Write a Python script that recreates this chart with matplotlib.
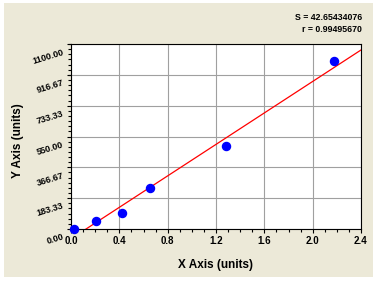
import numpy as np
import matplotlib
matplotlib.use("Agg")
import matplotlib.pyplot as plt
import matplotlib.transforms as mtransforms
from matplotlib.patches import Rectangle
from matplotlib.ticker import AutoMinorLocator, FixedLocator

x_vals = [0.025, 0.21, 0.42, 0.654, 1.286, 2.18]
y_vals = [0.0, 49.0, 97.0, 246.0, 495.0, 997.0]
x_ticks = [0.0, 0.4, 0.8, 1.2, 1.6, 2.0, 2.4]
x_tick_labels = ["0.0", "0.4", "0.8", "1.2", "1.6", "2.0", "2.4"]
y_ticks = [0.0, 183.33, 366.67, 550.0, 733.33, 916.67, 1100.0]
y_tick_labels = ["0.00", "183.33", "366.67", "550.00", "733.33", "916.67", "1100.00"]
stats_lines = ["S = 42.65434076", "r = 0.99495670"]

plt.rcParams['font.family'] = ['Liberation Sans', 'DejaVu Sans']

W, H = 380, 283
fig = plt.figure(figsize=(W / 100, H / 100), dpi=100)
fig.patch.set_facecolor("white")
fig.add_artist(Rectangle((4 / W, (H - 277) / H), (373 - 4) / W, (277 - 3) / H,
                         transform=fig.transFigure, facecolor="#ECE9D8",
                         edgecolor="none", zorder=-10))

ax = fig.add_axes([71 / W, (H - 229) / H, 290 / W, 185 / H])
ax.set_zorder(1)
ax.set_facecolor("white")

ax.set_xlim(0, 2.4)
ax.set_ylim(0, 1100)

ax.xaxis.set_major_locator(FixedLocator(x_ticks))
ax.set_xticklabels(x_tick_labels, fontsize=7, fontweight="bold")
ax.yaxis.set_major_locator(FixedLocator(y_ticks))
ax.set_yticklabels(y_tick_labels, fontsize=6.5, fontweight="bold", rotation=17,
                   rotation_mode="anchor", ha="right", va="top")
ax.xaxis.set_minor_locator(AutoMinorLocator(4))
ax.yaxis.set_minor_locator(AutoMinorLocator(6))
ax.tick_params(which="major", direction="out", length=3, width=0.8, pad=2)
ax.tick_params(which="minor", direction="out", length=2.5, width=0.8)
ax.tick_params(axis="y", which="major", pad=3.5)

offset = mtransforms.ScaledTranslation(0, -2.5 / 72, fig.dpi_scale_trans)
for lbl in ax.get_yticklabels():
    lbl.set_transform(lbl.get_transform() + offset)

ax.grid(True, which="major", color="#A0A0A0", linewidth=0.8)
ax.set_axisbelow(True)
for s in ax.spines.values():
    s.set_color("black")
    s.set_linewidth(0.8)

# regression line
slope, intercept = np.polyfit(x_vals, y_vals, 1)
xl = np.array([0.0, 2.4])
ax.plot(xl, slope * xl + intercept, color="#FF0000", linewidth=0.9, zorder=3)

ax.plot(x_vals, y_vals, linestyle="none", marker="o", markersize=5.8,
        markerfacecolor="#0000FF", markeredgecolor="#0000FF", zorder=4,
        clip_on=False)

ax.set_xlabel("X Axis (units)", fontsize=8.5, fontweight="bold")
ax.set_ylabel("Y Axis (units)", fontsize=8.5, fontweight="bold")
ax.xaxis.set_label_coords(0.5, -0.16)
ax.yaxis.set_label_coords(-0.162, 0.48)

fig.text(362 / W, 1 - 18 / H, stats_lines[0], ha="right", va="center",
         fontsize=6.3, fontweight="bold")
fig.text(362 / W, 1 - 30 / H, stats_lines[1], ha="right", va="center",
         fontsize=6.3, fontweight="bold")

fig.savefig("out.png", dpi=100, facecolor=fig.get_facecolor())
